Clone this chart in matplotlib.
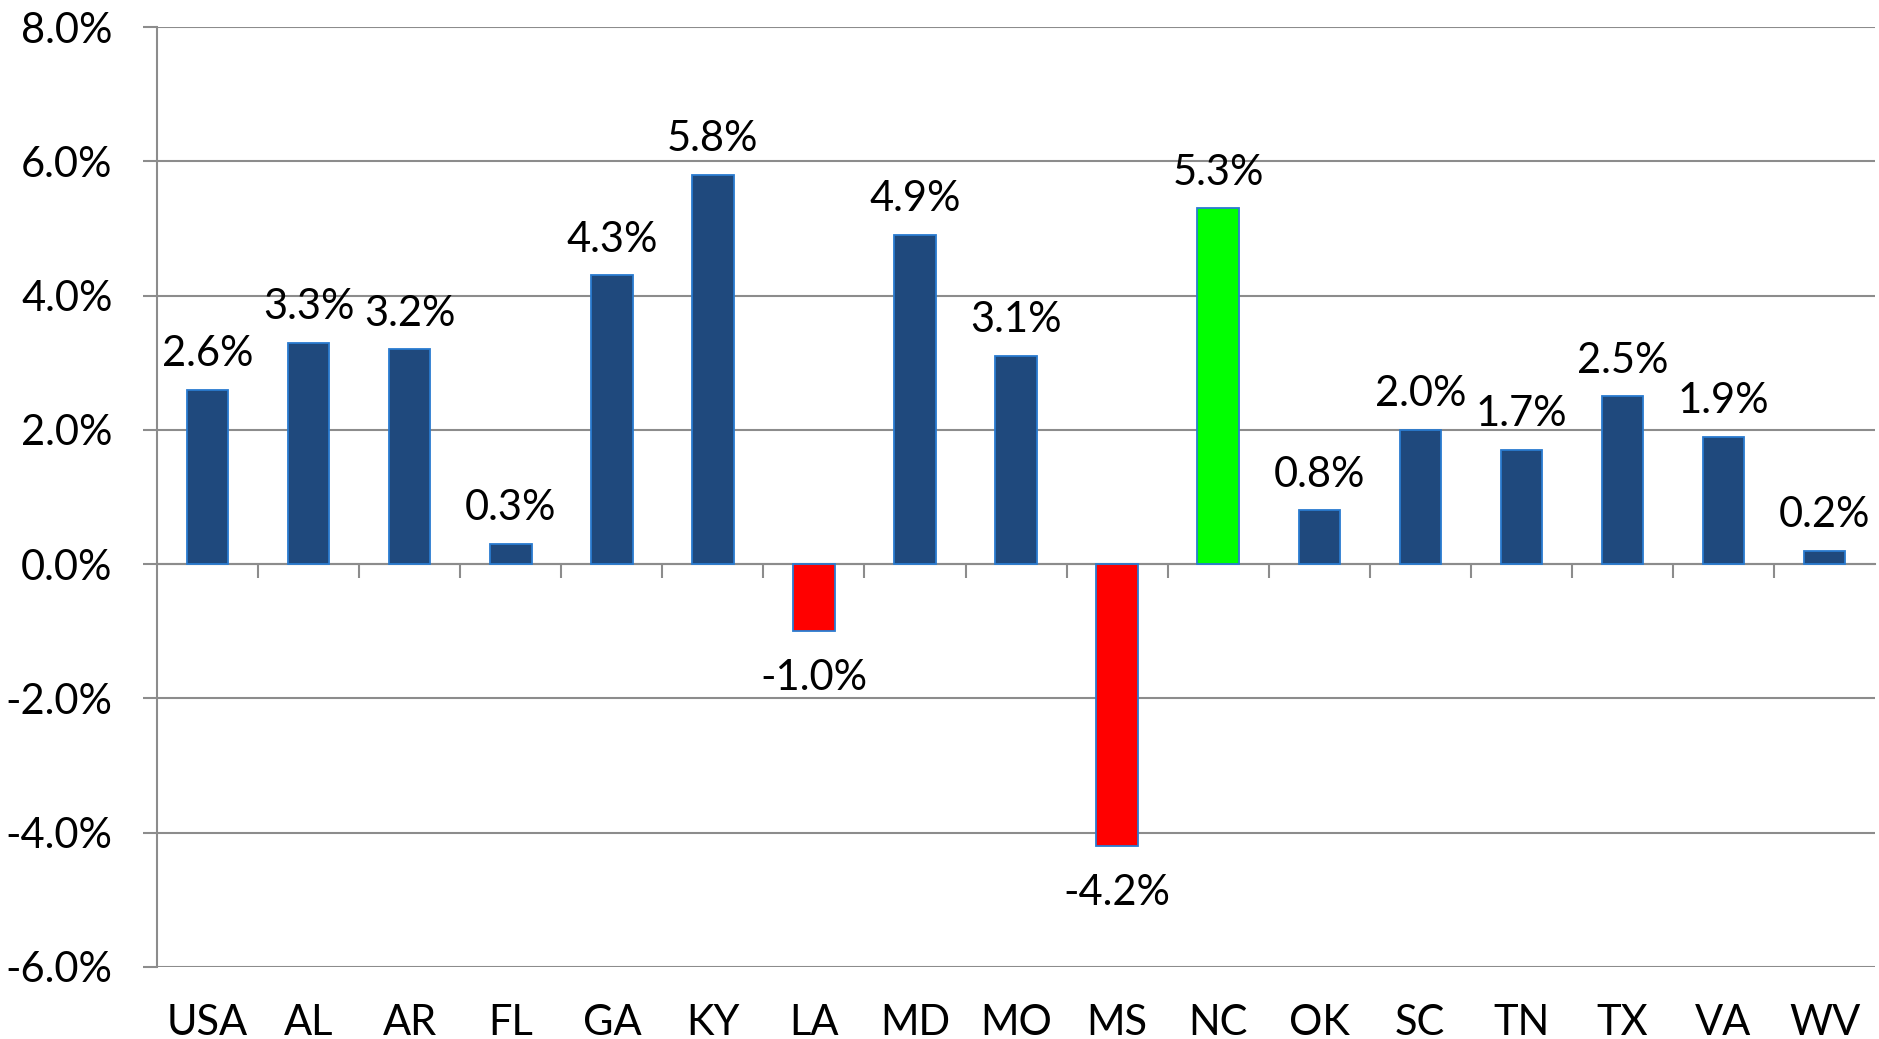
import matplotlib
matplotlib.use("Agg")
import matplotlib.pyplot as plt
from matplotlib.ticker import FuncFormatter, FixedLocator

states = ["USA", "AL", "AR", "FL", "GA", "KY", "LA", "MD", "MO", "MS",
          "NC", "OK", "SC", "TN", "TX", "VA", "WV"]
values = [2.6, 3.3, 3.2, 0.3, 4.3, 5.8, -1.0, 4.9, 3.1, -4.2,
          5.3, 0.8, 2.0, 1.7, 2.5, 1.9, 0.2]
highlight = {"NC": "#00FF00"}
y_ticks = [-6, -4, -2, 0, 2, 4, 6, 8]

BLUE = "#1F497D"
RED = "#FF0000"
EDGE = "#2A7BD0"
GRID = "#8C8C8C"

plt.rcParams['font.family'] = ['Lato', 'DejaVu Sans']

fig = plt.figure(figsize=(18.79, 10.39), dpi=100)
ax = fig.add_axes([0.0836, 0.0693, 0.9143, 0.9047])

colors = []
for s, v in zip(states, values):
    if s in highlight:
        colors.append(highlight[s])
    elif v < 0:
        colors.append(RED)
    else:
        colors.append(BLUE)

x = list(range(len(states)))
bars = ax.bar(x, values, width=0.41, color=colors, edgecolor=EDGE, linewidth=1.3, zorder=3)

for b, v in zip(bars, values):
    cx = b.get_x() + b.get_width() / 2
    if v >= 0:
        ax.annotate(f"{v:.1f}%", (cx, v), xytext=(0, 12), textcoords="offset points",
                    ha="center", va="bottom", fontsize=30, zorder=4)
    else:
        ax.annotate(f"{v:.1f}%", (cx, v), xytext=(0, -20), textcoords="offset points",
                    ha="center", va="top", fontsize=30, zorder=4)

ax.set_xlim(-0.5, len(states) - 0.5)
ax.set_ylim(-6, 8)
ax.set_yticks(y_ticks)
ax.yaxis.set_major_formatter(FuncFormatter(lambda v, p: f"{v:.1f}%"))
ax.grid(axis="y", color=GRID, linewidth=1.5, zorder=0)
ax.set_axisbelow(True)
ax.tick_params(axis="y", length=10, width=1.5, color=GRID, pad=22, labelsize=30)

ax.set_xticks(x)
ax.set_xticklabels(states)
ax.tick_params(axis="x", length=0, pad=27, labelsize=30)

for side in ["top", "right", "bottom"]:
    ax.spines[side].set_visible(False)
ax.spines["left"].set_color(GRID)
ax.spines["left"].set_linewidth(1.5)

# zero-line axis with category boundary ticks
zero_loc = (0 - (-6)) / (8 - (-6))
sec = ax.secondary_xaxis(zero_loc)
sec.xaxis.set_major_locator(FixedLocator([i + 0.5 for i in range(len(states) - 1)]))
sec.tick_params(axis="x", direction="out", length=10, width=1.5, color=GRID, labelbottom=False,
                labeltop=False, bottom=True, top=False)
sec.spines["bottom"].set_color(GRID)
sec.spines["bottom"].set_linewidth(1.5)
sec.spines["top"].set_visible(False)

fig.savefig("out.png", dpi=100)
